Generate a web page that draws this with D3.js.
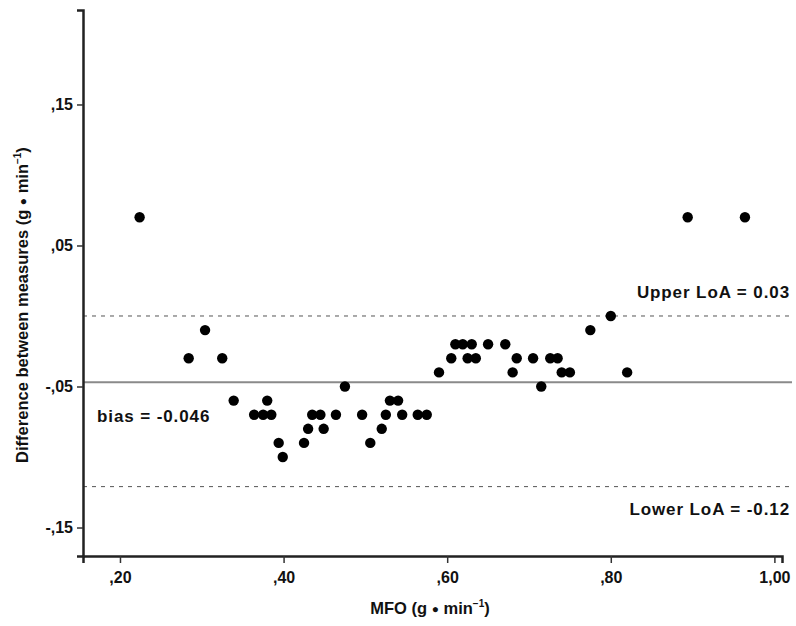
<!DOCTYPE html>
<html>
<head>
<meta charset="utf-8">
<script src="https://cdn.jsdelivr.net/npm/d3@7"></script>
<style>
  body { margin: 0; background: #fff; }
  text { font-family: "Liberation Sans", Arial, sans-serif; font-weight: bold; fill: #111; }
  .tick text { font-size: 16px; }
  .axis-label { font-size: 16.5px; }
  .note { font-size: 17px; letter-spacing: 0.9px; }
</style>
</head>
<body>
<svg width="796" height="626"></svg>
<script>
// MFO (x) and difference between measures (y)
const mfo = [0.224, 0.284, 0.304, 0.325, 0.339, 0.364, 0.375, 0.385, 0.380, 0.394,
  0.399, 0.425, 0.430, 0.435, 0.445, 0.449, 0.464, 0.475, 0.496, 0.506,
  0.520, 0.525, 0.530, 0.540, 0.545, 0.564, 0.575, 0.590, 0.605, 0.610,
  0.619, 0.630, 0.625, 0.635, 0.650, 0.671, 0.680, 0.685, 0.705, 0.715,
  0.726, 0.735, 0.740, 0.750, 0.775, 0.800, 0.820, 0.894, 0.964];
const diff = [0.07, -0.03, -0.01, -0.03, -0.06, -0.07, -0.07, -0.07, -0.06, -0.09,
  -0.10, -0.09, -0.08, -0.07, -0.07, -0.08, -0.07, -0.05, -0.07, -0.09,
  -0.08, -0.07, -0.06, -0.06, -0.07, -0.07, -0.07, -0.04, -0.03, -0.02,
  -0.02, -0.02, -0.03, -0.03, -0.02, -0.02, -0.04, -0.03, -0.03, -0.05,
  -0.03, -0.03, -0.04, -0.04, -0.01, 0.00, -0.04, 0.07, 0.07];

const xTicks = [0.2, 0.4, 0.6, 0.8, 1.0];
const xTickLabels = [',20', ',40', ',60', ',80', '1,00'];
const yTicks = [0.15, 0.05, -0.05, -0.15];
const yTickLabels = [',15', ',05', '-,05', '-,15'];

const bias = -0.047;
const upperLine = 0.0;   // where the dashed line sits in the picture
const lowerLine = -0.121;

const svg = d3.select('svg');
const width = +svg.attr('width');
const height = +svg.attr('height');

const margin = { top: 10, right: 14, bottom: 70, left: 83 };
const innerWidth = 782 - margin.left;
const innerHeight = height - margin.top - margin.bottom;

const xScale = d3.scaleLinear()
  .domain([0.1548, 1.0093])
  .range([0, innerWidth]);

const yScale = d3.scaleLinear()
  .domain([-0.1702, 0.2170])
  .range([innerHeight, 0]);

const g = svg.append('g')
  .attr('transform', `translate(${margin.left},${margin.top})`);

// reference lines
const lineRight = width - 4 - margin.left;
g.append('line')
  .attr('x1', 0).attr('x2', lineRight)
  .attr('y1', yScale(bias)).attr('y2', yScale(bias))
  .attr('stroke', '#8a8a8a').attr('stroke-width', 2);

[upperLine, lowerLine].forEach(v => {
  g.append('line')
    .attr('x1', 0).attr('x2', lineRight)
    .attr('y1', yScale(v)).attr('y2', yScale(v))
    .attr('stroke', '#555').attr('stroke-width', 1)
    .attr('stroke-dasharray', '4,5');
});

// axes
const xAxis = d3.axisBottom(xScale)
  .tickValues(xTicks)
  .tickFormat((d, i) => xTickLabels[i])
  .tickSizeOuter(0)
  .tickSize(7)
  .tickPadding(9);

const yAxis = d3.axisLeft(yScale)
  .tickValues(yTicks)
  .tickFormat((d, i) => yTickLabels[i])
  .tickSizeOuter(0)
  .tickSize(6)
  .tickPadding(4);

const xAxisG = g.append('g')
  .attr('transform', `translate(0,${innerHeight})`)
  .call(xAxis);
const yAxisG = g.append('g').call(yAxis);

[xAxisG, yAxisG].forEach(a => {
  a.select('.domain').attr('stroke', '#222').attr('stroke-width', 2.5);
  a.selectAll('.tick line').attr('stroke', '#333').attr('stroke-width', 1.5);
  a.selectAll('.tick text').attr('fill', '#111');
});

// points
g.selectAll('circle').data(mfo)
  .enter().append('circle')
    .attr('cx', d => xScale(d))
    .attr('cy', (d, i) => yScale(diff[i]))
    .attr('r', 5.2)
    .attr('fill', '#000');

// annotations
g.append('text')
  .attr('class', 'note')
  .attr('x', lineRight - 2)
  .attr('y', yScale(upperLine) - 18)
  .attr('text-anchor', 'end')
  .text('Upper LoA = 0.03');

g.append('text')
  .attr('class', 'note')
  .attr('x', lineRight - 2)
  .attr('y', yScale(lowerLine) + 28)
  .attr('text-anchor', 'end')
  .text('Lower LoA = -0.12');

g.append('text')
  .attr('class', 'note')
  .attr('x', 14)
  .attr('y', yScale(bias) + 40)
  .text('bias = -0.046');

// axis titles
const xt = svg.append('text')
  .attr('class', 'axis-label')
  .attr('x', 430)
  .attr('y', 614)
  .attr('text-anchor', 'middle');
xt.append('tspan').text('MFO (g ');
xt.append('tspan').attr('font-size', 12).attr('dy', -1).text('\u25CF');
xt.append('tspan').attr('dy', 1).text(' min');
xt.append('tspan').attr('dy', -7).attr('font-size', 10).text('\u22121');
xt.append('tspan').attr('dy', 7).text(')');

const yt = svg.append('text')
  .attr('class', 'axis-label')
  .attr('transform', 'translate(28,305) rotate(-90)')
  .attr('text-anchor', 'middle');
yt.append('tspan').text('Difference between measures (g ');
yt.append('tspan').attr('font-size', 12).attr('dy', -1).text('\u25CF');
yt.append('tspan').attr('dy', 1).text(' min');
yt.append('tspan').attr('dy', -7).attr('font-size', 10).text('\u22121');
yt.append('tspan').attr('dy', 7).text(')');
</script>
</body>
</html>
